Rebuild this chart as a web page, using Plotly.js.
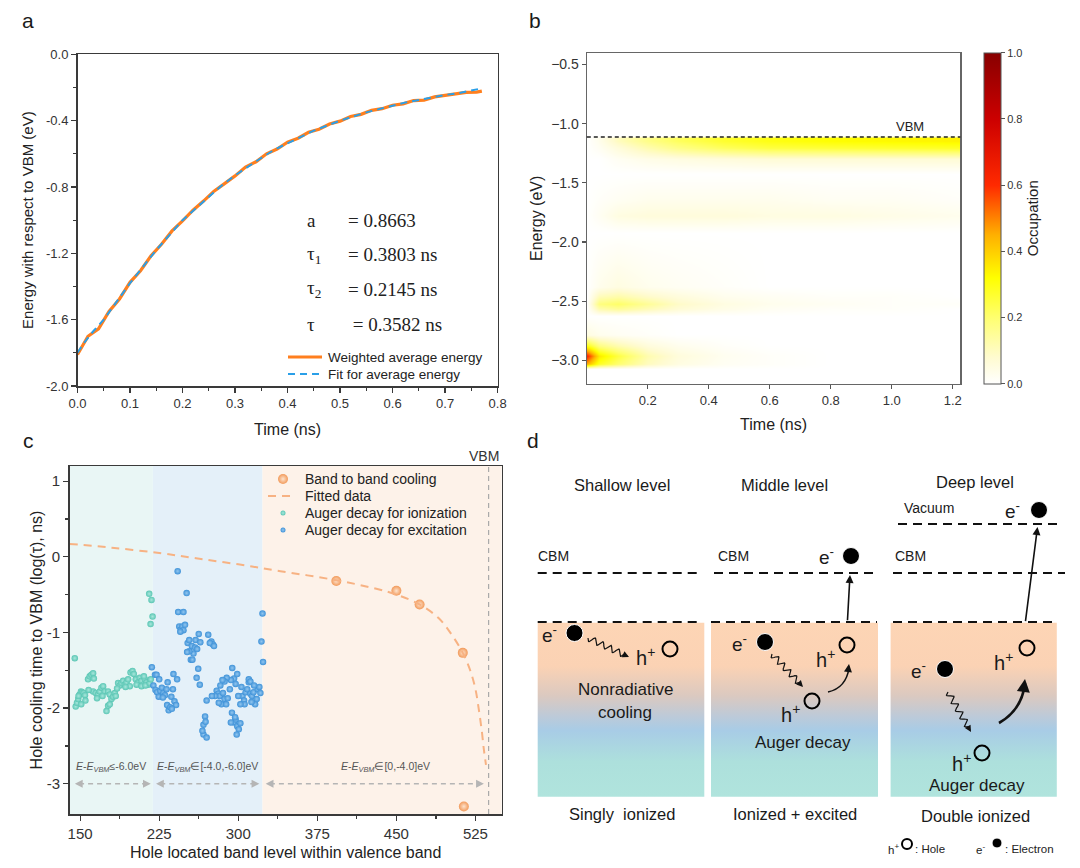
<!DOCTYPE html>
<html>
<head>
<meta charset="utf-8">
<script src="https://cdn.plot.ly/plotly-3.0.1.min.js"></script>
<style>
  body { margin: 0; background: #fff; }
  #fig { width: 1080px; height: 868px; }
</style>
</head>
<body>
<div id="fig"></div>
<script>
const FONT = 'Arial, "Liberation Sans", sans-serif';
const SERIF = '"Times New Roman", "Liberation Serif", serif';
const W = 1080, H = 868;

// ---------- panel a : average hole energy ----------
const timeFit = [0, 0.01, 0.02, 0.03, 0.05, 0.075, 0.1, 0.125, 0.15, 0.175, 0.2, 0.225, 0.25, 0.275, 0.3, 0.325,
  0.35, 0.375, 0.4, 0.425, 0.45, 0.475, 0.5, 0.525, 0.55, 0.575, 0.6, 0.625, 0.65, 0.675, 0.7, 0.725, 0.75, 0.77];
const energyFit = [-1.80, -1.75, -1.71, -1.67, -1.60, -1.49, -1.38, -1.28, -1.18, -1.09, -1.00, -0.93, -0.86, -0.79,
  -0.73, -0.675, -0.625, -0.575, -0.535, -0.495, -0.46, -0.43, -0.40, -0.375, -0.35, -0.33, -0.31, -0.29, -0.275,
  -0.26, -0.245, -0.235, -0.22, -0.205];
const timeAvg = [0, 0.02, 0.04, 0.06, 0.08, 0.1, 0.12, 0.14, 0.16, 0.18, 0.2, 0.22, 0.24, 0.26, 0.28, 0.3, 0.32,
  0.34, 0.36, 0.38, 0.4, 0.42, 0.44, 0.46, 0.48, 0.5, 0.52, 0.54, 0.56, 0.58, 0.6, 0.62, 0.64, 0.66, 0.68, 0.7,
  0.72, 0.74, 0.76, 0.77];
const energyAvg = [-1.81, -1.70, -1.655, -1.55, -1.475, -1.375, -1.305, -1.215, -1.145, -1.065, -1.005, -0.94,
  -0.885, -0.825, -0.78, -0.733, -0.68, -0.648, -0.60, -0.571, -0.53, -0.506, -0.47, -0.452, -0.42, -0.403, -0.375,
  -0.362, -0.338, -0.328, -0.307, -0.299, -0.279, -0.276, -0.257, -0.248, -0.241, -0.23, -0.228, -0.222];
const ticksAx = [0, 0.1, 0.2, 0.3, 0.4, 0.5, 0.6, 0.7, 0.8];
const labelsAx = ['0.0', '0.1', '0.2', '0.3', '0.4', '0.5', '0.6', '0.7', '0.8'];
const ticksAy = [0, -0.4, -0.8, -1.2, -1.6, -2.0];
const labelsAy = ['0.0', '-0.4', '-0.8', '-1.2', '-1.6', '-2.0'];
const fitNames = ['a', 'τ<sub>1</sub>', 'τ<sub>2</sub>', 'τ'];
const fitValues = ['= 0.8663', '= 0.3803 ns', '= 0.2145 ns', ' = 0.3582 ns'];

// ---------- panel b : occupation map ----------
const timeB = [0, 0.04, 0.1, 0.2, 0.3, 0.45, 0.6, 0.8, 1.0, 1.225];
const energyB = [-3.2, -3.07, -3.03, -2.96, -2.88, -2.78, -2.62, -2.56, -2.52, -2.46, -2.38, -1.92, -1.78,
  -1.64, -1.42, -1.3, -1.2, -1.14, -1.115, -1.1, -0.4];
const occupation = [
  [0, 0, 0, 0, 0, 0, 0, 0, 0, 0],
  [0, 0, 0, 0, 0, 0, 0, 0, 0, 0],
  [0.45, 0.28, 0.2, 0.1, 0.05, 0.02, 0.01, 0, 0, 0],
  [0.62, 0.36, 0.25, 0.12, 0.06, 0.025, 0.01, 0, 0, 0],
  [0.3, 0.18, 0.12, 0.06, 0.03, 0.01, 0, 0, 0, 0],
  [0.05, 0.03, 0.02, 0.01, 0, 0, 0, 0, 0, 0],
  [0, 0, 0, 0, 0, 0, 0, 0, 0, 0],
  [0, 0.12, 0.15, 0.11, 0.07, 0.04, 0.02, 0.01, 0.01, 0],
  [0, 0.18, 0.21, 0.15, 0.09, 0.05, 0.03, 0.02, 0.01, 0.01],
  [0, 0.11, 0.13, 0.09, 0.06, 0.03, 0.02, 0.01, 0.01, 0],
  [0, 0.03, 0.05, 0.03, 0.02, 0.01, 0, 0, 0, 0],
  [0, 0, 0, 0, 0, 0, 0, 0, 0, 0],
  [0, 0.02, 0.05, 0.06, 0.06, 0.06, 0.05, 0.05, 0.04, 0.03],
  [0, 0.01, 0.02, 0.03, 0.03, 0.03, 0.03, 0.02, 0.02, 0.01],
  [0, 0, 0, 0, 0, 0, 0, 0, 0, 0],
  [0, 0, 0.02, 0.04, 0.05, 0.06, 0.07, 0.07, 0.07, 0.07],
  [0, 0.02, 0.06, 0.12, 0.17, 0.22, 0.25, 0.26, 0.27, 0.28],
  [0, 0.03, 0.1, 0.17, 0.22, 0.27, 0.3, 0.32, 0.33, 0.34],
  [0, 0.03, 0.1, 0.17, 0.22, 0.27, 0.3, 0.32, 0.33, 0.34],
  [0, 0, 0, 0, 0, 0, 0, 0, 0, 0],
  [0, 0, 0, 0, 0, 0, 0, 0, 0, 0]
];
const vbmEnergy = -1.112;
const ticksBx = [0.2, 0.4, 0.6, 0.8, 1.0, 1.2];
const ticksBar = [0, 0.2, 0.4, 0.6, 0.8, 1.0];
const occupationScale = [[0, '#ffffff'], [0.08, '#fffbd0'], [0.2, '#ffff70'], [0.32, '#ffff00'],
  [0.45, '#ffb000'], [0.6, '#ff2a00'], [0.8, '#cc0000'], [1, '#880000']];

// ---------- panel c : hole cooling time ----------
const bandLevel = [393, 450, 472, 513, 514];
const bandLogTau = [-0.32, -0.45, -0.63, -1.27, -3.30];
const fitLevel = [140, 180, 225, 260, 300, 340, 393, 430, 450, 472, 490, 502, 513, 520, 525, 528, 531, 533, 535];
const fitLogTau = [0.17, 0.12, 0.05, -0.02, -0.10, -0.19, -0.31, -0.42, -0.50, -0.63, -0.81, -1.02, -1.27, -1.50,
  -1.75, -2.0, -2.3, -2.55, -2.75];
const ionLevel = [144.9, 145.8, 147.0, 148.2, 149.5, 150.8, 152.0, 153.3, 154.6, 155.0, 151.0, 148.5, 157.5, 159.1,
  160.7, 162.3, 163.0, 162.3, 164.8, 167.0, 168.6, 170.2, 171.8, 173.4, 171.2, 176.5, 178.1, 179.7, 181.3, 182.9,
  183.8, 176.5, 178.1, 175.0, 186.0, 187.6, 189.2, 190.8, 192.4, 194.0, 195.5, 197.1, 197.8, 199.7, 200.9, 202.8,
  205.1, 206.6, 208.2, 209.8, 211.4, 213.0, 214.5, 203.5, 208.2, 210.5, 212.0, 215.5, 217.7, 218.7, 216.8, 158.0,
  166.0, 185.0, 193.0, 216.0, 217.0];
const ionLogTau = [-1.34, -1.98, -1.93, -1.88, -1.82, -1.78, -1.79, -1.80, -1.83, -1.90, -1.95, -1.84, -1.62, -1.58,
  -1.56, -1.54, -1.61, -1.78, -1.80, -1.82, -1.78, -1.73, -1.71, -1.78, -1.84, -1.78, -1.82, -1.88, -1.85, -1.80,
  -1.84, -1.97, -1.95, -2.04, -1.67, -1.70, -1.67, -1.64, -1.69, -1.66, -1.62, -1.71, -1.53, -1.51, -1.55, -1.62,
  -1.66, -1.60, -1.64, -1.69, -1.62, -1.66, -1.69, -1.69, -1.71, -1.58, -1.70, -0.49, -0.57, -0.79, -0.89, -1.76,
  -1.87, -1.74, -1.72, -1.67, -1.62];
const excLevel = [218.0, 221.0, 222.5, 219.5, 221.5, 223.0, 224.5, 226.0, 227.5, 229.0, 230.5, 232.0, 232.5, 234.0,
  235.5, 233.0, 236.5, 238.0, 239.5, 241.0, 225.0, 228.5, 237.0, 242.5, 251.0, 243.0, 248.0, 244.0, 245.5, 247.0,
  248.0, 245.0, 252.0, 253.5, 256.0, 259.0, 257.5, 253.5, 255.0, 256.5, 261.0, 262.5, 259.5, 251.5, 262.0, 260.5,
  263.5, 271.5, 274.5, 276.0, 273.0, 277.0, 268.5, 267.0, 267.0, 270.0, 266.0, 269.0, 279.5, 281.0, 282.5, 284.0,
  285.5, 287.0, 288.5, 278.0, 281.5, 290.0, 292.0, 294.3, 296.0, 293.0, 297.5, 294.0, 296.0, 297.5, 299.0, 300.5,
  298.5, 293.0, 297.0, 289.0, 287.0, 283.0, 302.0, 304.0, 305.5, 307.0, 308.5, 310.0, 311.5, 313.0, 314.5, 316.0,
  317.5, 318.5, 310.0, 311.5, 306.0, 320.0, 321.0, 303.0, 323.0, 322.0, 323.5, 264.0, 249.5, 238.5, 242.0, 275.0,
  270.0, 285.0, 299.0, 302.0, 300.0, 312.5, 315.0];
const excLogTau = [-1.46, -1.56, -1.56, -1.70, -1.76, -1.79, -1.85, -1.77, -1.73, -1.80, -1.83, -1.75, -1.96, -2.03,
  -1.99, -1.66, -1.85, -1.75, -1.91, -1.96, -1.62, -1.86, -2.01, -0.19, -0.48, -0.73, -0.73, -0.92, -0.96, -0.92,
  -0.97, -0.99, -1.14, -1.10, -1.18, -1.20, -1.28, -1.25, -1.36, -1.36, -1.22, -1.02, -1.10, -1.26, -1.48, -1.60,
  -1.69, -1.03, -1.12, -1.16, -1.14, -1.18, -2.11, -2.22, -2.35, -2.39, -2.30, -2.18, -1.77, -1.81, -1.84, -1.95,
  -1.80, -1.88, -1.95, -1.84, -1.93, -1.87, -1.75, -1.47, -1.61, -1.63, -1.68, -2.06, -2.19, -2.15, -2.24, -2.28,
  -2.35, -2.19, -2.12, -1.60, -1.65, -1.70, -2.20, -1.84, -1.90, -1.79, -1.75, -1.66, -1.81, -1.84, -1.79, -1.95,
  -1.88, -1.75, -1.62, -1.65, -1.95, -1.72, -1.80, -1.72, -0.75, -1.12, -1.39, -1.13, -0.90, -1.55, -1.62, -1.84,
  -1.90, -1.63, -1.55, -1.95, -1.84, -1.92, -1.70];
const regionEdges = [140, 219, 323, 550];
const regionLabels = ['<i>E</i>-<i>E</i><sub><i>VBM</i></sub>≤-6.0eV',
  '<i>E</i>-<i>E</i><sub><i>VBM</i></sub>∈[-4.0,-6.0]eV',
  '<i>E</i>-<i>E</i><sub><i>VBM</i></sub>∈[0,-4.0]eV'];
const regionLabelX = [179, 271, 440];
const arrowSpans = [[145, 217], [222, 320], [326, 533]];
const vbmLevel = 537.5;
const ticksCx = [150, 225, 300, 375, 450, 525];
const ticksCy = [1, 0, -1, -2, -3];
const labelsCy = ['1', '0', '-1', '-2', '-3'];

// ---------- helpers ----------
const midpoints = a => a.slice(1).map((v, i) => (v + a[i]) / 2);
const ydom = (top, bottom) => [1 - bottom / H, 1 - top / H];

function frameAxis(extra) {
  return Object.assign({
    showline: true, mirror: true, linecolor: '#3a3a3a', linewidth: 1.5,
    ticks: 'outside', ticklen: 5, tickwidth: 1.2, tickcolor: '#3a3a3a',
    showgrid: false, zeroline: false, tickfont: { size: 13, color: '#333' }
  }, extra);
}

const traces = [];
const shapes = [];
const annotations = [];

function pixText(x, y, text, size, extra) {
  annotations.push(Object.assign({ xref: 'x4', yref: 'y4', x, y, text, showarrow: false,
    font: { size, color: '#1a1a1a' } }, extra || {}));
}

// hand-drawn legend entries in the pixel frame
function legendLine(x0, x1, y, line, label, size) {
  shapes.push({ type: 'line', xref: 'x4', yref: 'y4', x0, x1, y0: y, y1: y, line });
  if (label) pixText(x1 + 4, y, label, size, { xanchor: 'left', font: { size, color: '#222' } });
}
function legendMarker(x, y, marker, label, textX, size) {
  traces.push({ type: 'scatter', mode: 'markers', xaxis: 'x4', yaxis: 'y4', x: [x], y: [y], marker,
    showlegend: false, hoverinfo: 'skip' });
  pixText(textX, y, label, size, { xanchor: 'left', font: { size, color: '#222' } });
}

// panel a traces
const avgLine = { color: '#ff7f1e', width: 3.2 };
const fitLine = { color: '#2a9fe8', width: 2, dash: '7px,5px' };
traces.push({
  type: 'scatter', mode: 'lines', x: timeAvg, y: energyAvg, xaxis: 'x', yaxis: 'y',
  name: 'Weighted average energy', showlegend: false, line: avgLine
});
traces.push({
  type: 'scatter', mode: 'lines', x: timeFit, y: energyFit, xaxis: 'x', yaxis: 'y',
  name: 'Fit for average energy', showlegend: false, line: fitLine
});
legendLine(288, 322, 357, avgLine, 'Weighted average energy', 13.5);
legendLine(288, 322, 374, fitLine, 'Fit for average energy', 13.5);
fitNames.forEach((n, i) => {
  const y = 220 + i * 34.7;
  pixText(305, y, n, 19, { xanchor: 'left', font: { family: SERIF, size: 19, color: '#222' } });
  pixText(346, y, fitValues[i], 19, { xanchor: 'left', font: { family: SERIF, size: 19, color: '#222' } });
});

// panel b heatmap
traces.push({
  type: 'heatmap', x: timeB, y: energyB, z: occupation, xaxis: 'x2', yaxis: 'y2',
  zmin: 0, zmax: 1, zsmooth: 'best', colorscale: occupationScale, showlegend: false, hoverinfo: 'skip',
  colorbar: {
    x: 983.6 / W, xanchor: 'left', y: 1 - 52.7 / H, yanchor: 'top', len: (384 - 52.7) / H, lenmode: 'fraction',
    thickness: 17, xpad: 0, ypad: 0, outlinewidth: 1, outlinecolor: '#555',
    tickmode: 'array', tickvals: ticksBar, ticktext: ticksBar.map(v => v.toFixed(1)),
    ticks: 'outside', ticklen: 4, tickcolor: '#555', tickfont: { size: 11, color: '#333' },
    title: { text: 'Occupation', side: 'right', font: { size: 15, color: '#222' } }
  }
});
shapes.push({ type: 'line', xref: 'x2 domain', yref: 'y2', x0: 0, x1: 1, y0: vbmEnergy, y1: vbmEnergy,
  line: { color: '#222', width: 1.5, dash: '4px,3px' } });
annotations.push({ xref: 'x2', yref: 'y2', x: 1.06, y: vbmEnergy, yanchor: 'bottom', yshift: 1, text: 'VBM',
  showarrow: false, font: { size: 13, color: '#222' } });

// panel c
const regionColors = ['#e9f6f5', '#e4f0f9', '#fdf2e9'];
regionColors.forEach((c, i) => {
  shapes.push({ type: 'rect', xref: 'x3', yref: 'y3 domain', x0: regionEdges[i], x1: regionEdges[i + 1], y0: 0, y1: 1,
    fillcolor: c, line: { width: 0 }, layer: 'below' });
});
shapes.push({ type: 'line', xref: 'x3', yref: 'y3 domain', x0: vbmLevel, x1: vbmLevel, y0: 0, y1: 1,
  line: { color: '#aaa', width: 1.2, dash: '5px,4px' } });
arrowSpans.forEach(([a, b]) => {
  shapes.push({ type: 'line', xref: 'x3', yref: 'y3', x0: a + 4, x1: b - 4, y0: -3, y1: -3,
    line: { color: '#b5b5b5', width: 1.3, dash: '5px,4px' } });
  annotations.push({ xref: 'x3', yref: 'y3', axref: 'x3', ayref: 'y3', x: a, y: -3, ax: a + 6, ay: -3, text: '',
    showarrow: true, arrowhead: 2, arrowsize: 1.3, arrowwidth: 1.2, arrowcolor: '#b5b5b5' });
  annotations.push({ xref: 'x3', yref: 'y3', axref: 'x3', ayref: 'y3', x: b, y: -3, ax: b - 6, ay: -3, text: '',
    showarrow: true, arrowhead: 2, arrowsize: 1.3, arrowwidth: 1.2, arrowcolor: '#b5b5b5' });
});
regionLabels.forEach((t, i) => {
  annotations.push({ xref: 'x3', yref: 'y3', x: regionLabelX[i], y: -2.78, text: t, showarrow: false,
    font: { size: 10.5, color: '#555' } });
});
pixText(484, 456, 'VBM', 14, { font: { size: 14, color: '#333' } });

const bandMarker = { size: 10, color: '#f29a5a', gradient: { type: 'radial', color: '#fde3cd' } };
const fitCLine = { color: '#f7b283', width: 2, dash: '8px,6px', shape: 'spline' };
const ionMarker = { size: 6.5, color: '#5ac6b4', gradient: { type: 'radial', color: '#a9e7dc' } };
const excMarker = { size: 6.5, color: '#3f92d8', gradient: { type: 'radial', color: '#92c6ef' } };
traces.push({ type: 'scatter', mode: 'markers', x: bandLevel, y: bandLogTau, xaxis: 'x3', yaxis: 'y3',
  name: 'Band to band cooling', showlegend: false, marker: bandMarker });
traces.push({ type: 'scatter', mode: 'lines', x: fitLevel, y: fitLogTau, xaxis: 'x3', yaxis: 'y3',
  name: 'Fitted data', showlegend: false, line: fitCLine });
traces.push({ type: 'scatter', mode: 'markers', x: ionLevel, y: ionLogTau, xaxis: 'x3', yaxis: 'y3',
  name: 'Auger decay for ionization', showlegend: false, marker: ionMarker });
traces.push({ type: 'scatter', mode: 'markers', x: excLevel, y: excLogTau, xaxis: 'x3', yaxis: 'y3',
  name: 'Auger decay for excitation', showlegend: false, marker: excMarker });
legendMarker(283, 479, bandMarker, 'Band to band cooling', 303, 14);
legendLine(268, 293, 496, { color: fitCLine.color, width: 2, dash: '8px,6px' }, '', 14);
pixText(303, 496, 'Fitted data', 14, { xanchor: 'left', font: { size: 14, color: '#222' } });
legendMarker(283, 513, Object.assign({}, ionMarker, { size: 5 }), 'Auger decay for ionization', 303, 14);
legendMarker(283, 530, Object.assign({}, excMarker, { size: 5 }), 'Auger decay for excitation', 303, 14);

// ---------- panel d : schematic (pixel frame on x4/y4) ----------
const boxLeft = [537.7, 711, 890.6], boxRight = [704.3, 878, 1056.8];
const boxTop = 622.7, boxBottom = 796.7;
const boxScale = [[0, '#fdd5b5'], [0.25, '#fbd2b4'], [0.42, '#dbc9c0'], [0.54, '#bccad9'], [0.62, '#a8cce6'],
  [0.8, '#ade0dc'], [1, '#b0e4dd']];
boxLeft.forEach((l, i) => {
  traces.push({
    type: 'scatter', mode: 'lines', xaxis: 'x4', yaxis: 'y4', showlegend: false, hoverinfo: 'skip',
    x: [l, boxRight[i], boxRight[i], l, l], y: [boxTop, boxTop, boxBottom, boxBottom, boxTop],
    line: { width: 0 }, fill: 'toself',
    fillgradient: { type: 'vertical', colorscale: boxScale, start: boxTop, stop: boxBottom }
  });
});
const dashLines = [[537.7, 700, 622], [711, 877, 622], [893, 1058, 622],
  [537.7, 698, 573], [714, 877, 573], [893, 1065, 573], [898, 1060, 524]];
dashLines.forEach(([a, b, y]) => {
  shapes.push({ type: 'line', xref: 'x4', yref: 'y4', x0: a, x1: b, y0: y, y1: y,
    line: { color: '#111', width: 2, dash: '9px,6px' } });
});

const dText = [
  [622, 485, 'Shallow level', 16.5], [784, 485, 'Middle level', 16.5], [975, 482, 'Deep level', 16.5],
  [553, 556, 'CBM', 14], [733, 556, 'CBM', 14], [910, 556, 'CBM', 14], [929, 508, 'Vacuum', 14],
  [622, 814, 'Singly  ionized', 16.5], [795, 814, 'Ionized + excited', 16.5], [975, 816, 'Double ionized', 16.5],
  [625, 689, 'Nonradiative', 17], [625, 712, 'cooling', 17],
  [803, 742, 'Auger decay', 17], [977, 785, 'Auger decay', 17]
];
dText.forEach(([x, y, t, s]) => pixText(x, y, t, s));
const eLabels = [[549, 634], [739, 643], [918, 670], [826, 556], [1012, 510]];
const hLabels = [[645, 656], [825, 658], [790, 713], [1003, 661], [961, 762]];
eLabels.forEach(([x, y]) => pixText(x, y, 'e<sup>-</sup>', 19));
hLabels.forEach(([x, y]) => pixText(x, y, 'h<sup>+</sup>', 20));

const electrons = [[574.5, 633], [765, 642], [851, 556], [945, 669], [1039, 510], [997, 843]];
const holes = [[670, 649], [847, 645], [812, 701], [1027, 648], [982, 753], [907, 844]];
traces.push({ type: 'scatter', mode: 'markers', xaxis: 'x4', yaxis: 'y4', showlegend: false, hoverinfo: 'skip',
  x: electrons.map(p => p[0]), y: electrons.map(p => p[1]),
  marker: { symbol: 'circle', color: '#000', opacity: 1, size: electrons.map((p, i) => i === 5 ? 10 : 17) } });
traces.push({ type: 'scatter', mode: 'markers', xaxis: 'x4', yaxis: 'y4', showlegend: false, hoverinfo: 'skip',
  x: holes.map(p => p[0]), y: holes.map(p => p[1]),
  marker: { symbol: 'circle-open', color: '#000', opacity: 1, size: holes.map((p, i) => i === 5 ? 10 : 15),
    line: { width: 2, color: '#000' } } });
// bottom key
[[893, 849, 'h<sup>+</sup>', 'center'], [913, 849, ': Hole', 'left'], [980, 849, 'e<sup>-</sup>', 'center'],
 [1003, 849, ': Electron', 'left']].forEach(([x, y, t, a]) => {
  pixText(x, y, t, 11.5, { xanchor: a, font: { size: 11.5, color: '#222' } });
});

function arrowHead(x, y, fromX, fromY, w) {
  annotations.push({ xref: 'x4', yref: 'y4', axref: 'x4', ayref: 'y4', x, y, ax: fromX, ay: fromY, text: '',
    showarrow: true, arrowhead: 2, arrowsize: 1, arrowwidth: w, arrowcolor: '#111' });
}
// straight excitation arrows
arrowHead(850, 575, 847.4, 621.7, 1.6);
arrowHead(1037.5, 527, 1025.3, 622.7, 1.6);

// wavy arrows
[[588, 638, 629, 657], [772, 654, 803, 687], [948, 692, 971, 732]].forEach(([x0, y0, x1, y1]) => {
  const dx = x1 - x0, dy = y1 - y0, L = Math.hypot(dx, dy), ux = dx / L, uy = dy / L;
  const xs = [], ys = [], n = 60, Lw = L - 6;
  for (let i = 0; i <= n; i++) {
    const s = Lw * i / n, o = 3 * Math.sin(2 * Math.PI * 4.5 * i / n);
    xs.push(x0 + ux * s - uy * o);
    ys.push(y0 + uy * s + ux * o);
  }
  traces.push({ type: 'scatter', mode: 'lines', xaxis: 'x4', yaxis: 'y4', x: xs, y: ys, showlegend: false,
    hoverinfo: 'skip', line: { color: '#111', width: 1.2 } });
  arrowHead(x1, y1, x1 - ux * 8, y1 - uy * 8, 1.3);
});

// curved Auger arrows
[[828, 692, 846, 688, 849, 664, 1.6], [999, 723, 1022, 710, 1025, 679, 2.6]].forEach(([x0, y0, cx, cy, x1, y1, w]) => {
  shapes.push({ type: 'path', xref: 'x4', yref: 'y4', path: `M ${x0},${y0} Q ${cx},${cy} ${x1},${y1 + 4}`,
    line: { color: '#111', width: w } });
  arrowHead(x1, y1, x1 - (x1 - cx) * 0.3, y1 + 7, w);
});

// panel letters
[[28, 20, 'a'], [535, 20, 'b'], [28, 440, 'c'], [533, 440, 'd']].forEach(([x, y, t]) => pixText(x, y, t, 21));

const layout = {
  width: W, height: H,
  margin: { l: 0, r: 0, t: 0, b: 0 },
  paper_bgcolor: '#fff', plot_bgcolor: 'rgba(0,0,0,0)',
  font: { family: FONT, color: '#222' },
  showlegend: false,
  xaxis: frameAxis({
    domain: [77.5 / W, 497.6 / W], range: [0, 0.8], anchor: 'y',
    tickmode: 'array', tickvals: ticksAx, ticktext: labelsAx,
    minor: { ticks: 'outside', ticklen: 3, tickcolor: '#3a3a3a', tickvals: midpoints(ticksAx) },
    title: { text: 'Time (ns)', font: { size: 16, color: '#222' }, standoff: 13 }
  }),
  yaxis: frameAxis({
    domain: ydom(54.3, 386), range: [-2, 0], anchor: 'x',
    tickmode: 'array', tickvals: ticksAy, ticktext: labelsAy,
    minor: { ticks: 'outside', ticklen: 3, tickcolor: '#3a3a3a', tickvals: midpoints(ticksAy) },
    title: { text: 'Energy with respect to VBM (eV)', font: { size: 15, color: '#222' }, standoff: 8 }
  }),
  xaxis2: frameAxis({
    domain: [586.8 / W, 960.4 / W], range: [0, 1.225], anchor: 'y2', linecolor: '#666', linewidth: 1.2,
    tickcolor: '#555', ticklen: 4, tickmode: 'array', tickvals: ticksBx, ticktext: ticksBx.map(v => v.toFixed(1)),
    tickfont: { size: 13, color: '#333' },
    title: { text: 'Time (ns)', font: { size: 16, color: '#222' }, standoff: 12 }
  }),
  yaxis2: frameAxis({
    domain: ydom(52.7, 384), range: [-3.2, -0.4], anchor: 'x2', linecolor: '#666', linewidth: 1.2,
    tickcolor: '#555', ticklen: 4, dtick: 0.5, tick0: 0, tickformat: '.1f', tickfont: { size: 14, color: '#333' },
    title: { text: 'Energy (eV)', font: { size: 16, color: '#222' }, standoff: 4 }
  }),
  xaxis3: frameAxis({
    domain: [69.6 / W, 501.8 / W], range: [140, 550], anchor: 'y3',
    tickmode: 'array', tickvals: ticksCx, ticktext: ticksCx.map(String), tickfont: { size: 15, color: '#333' },
    minor: { ticks: 'outside', ticklen: 3, tickcolor: '#3a3a3a', tickvals: midpoints(ticksCx) },
    title: { text: 'Hole located band level within valence band', font: { size: 16, color: '#222' }, standoff: 6 }
  }),
  yaxis3: frameAxis({
    domain: ydom(466, 814), range: [-3.4, 1.2], anchor: 'x3',
    tickmode: 'array', tickvals: ticksCy, ticktext: labelsCy, tickfont: { size: 15, color: '#333' },
    minor: { ticks: 'outside', ticklen: 3, tickcolor: '#3a3a3a', tickvals: midpoints(ticksCy) },
    title: { text: 'Hole cooling time to VBM (log(τ), ns)', font: { size: 16, color: '#222' }, standoff: 0 }
  }),
  xaxis4: { domain: [0, 1], range: [0, W], anchor: 'y4', visible: false, fixedrange: true },
  yaxis4: { domain: [0, 1], range: [H, 0], anchor: 'x4', visible: false, fixedrange: true },
  shapes, annotations
};

Plotly.newPlot('fig', traces, layout, { displayModeBar: false, staticPlot: true });
</script>
</body>
</html>
